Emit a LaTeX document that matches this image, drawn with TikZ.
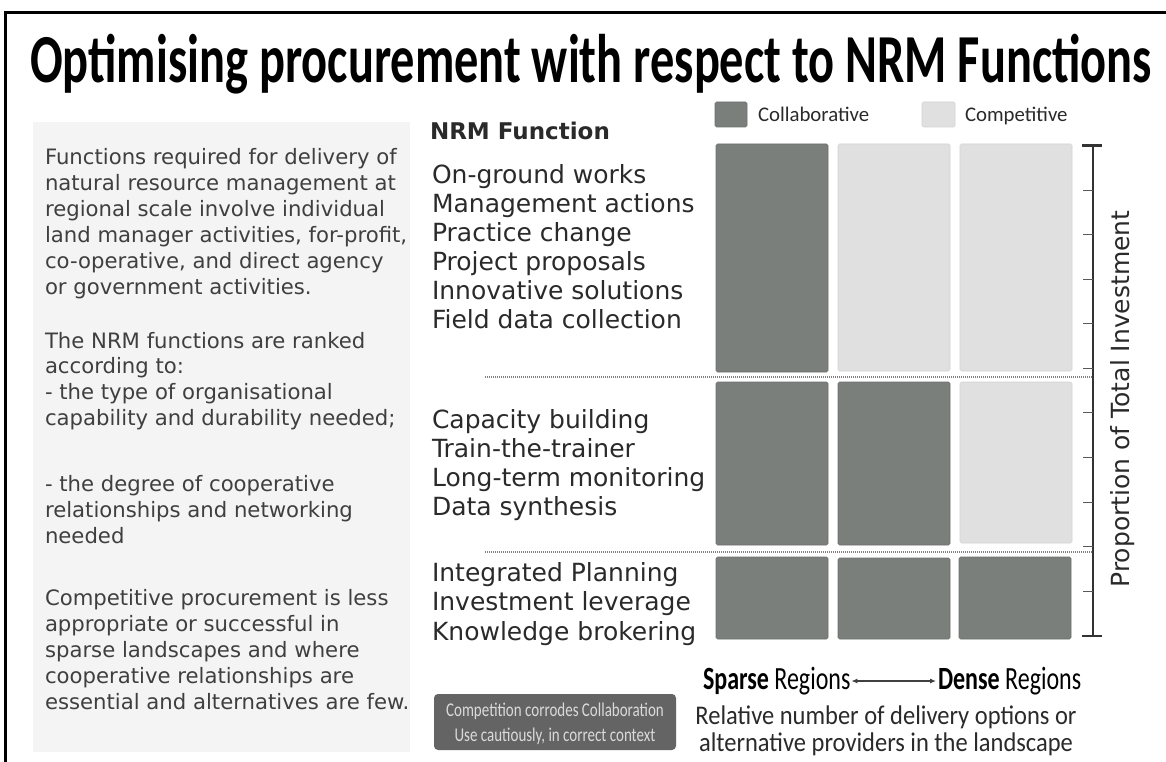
\documentclass[tikz,border=0pt]{standalone}
\usepackage{fontspec}
\setmainfont{DejaVu Sans}
\newfontfamily\carlito{Carlito}
\usetikzlibrary{arrows.meta}
\definecolor{darkbar}{HTML}{7B7F7B}
\definecolor{lightbar}{HTML}{E0E0E0}
\definecolor{panelgray}{HTML}{F4F4F4}
\definecolor{txt}{HTML}{2A2A2A}
\definecolor{boxgray}{HTML}{646464}
\definecolor{boxtxt}{HTML}{DADADA}
\begin{document}
\begin{tikzpicture}[x=1pt,y=-1pt,
  every node/.style={inner sep=0pt, outer sep=0pt},
  lefttxt/.style={anchor=base west, font=\fontsize{21.2}{24}\selectfont, text=txt!90!white},
  functxt/.style={anchor=base west, font=\fontsize{25}{30}\selectfont, text=txt},
  legtxt/.style={anchor=base west, font=\carlito\fontsize{20.8}{24}\selectfont, text=txt},
  collab/.style={fill=darkbar, draw=darkbar!88!black, line width=0.6pt, rounded corners=1.5pt},
  compet/.style={fill=lightbar, draw=lightbar!94!black, line width=0.6pt, rounded corners=1.5pt},
  divider/.style={draw=gray, line width=1.3pt, dash pattern=on 1pt off 1pt},
  axisline/.style={draw=black!80, line width=2pt},
  tickline/.style={draw=black!65, line width=1pt},
  ]
\useasboundingbox (0,0) rectangle (1166,762);
\fill[white] (0,0) rectangle (1166,762);
% frame
\draw[line width=3pt] (5,762) -- (5,13) -- (1166,13);
% title
\node[anchor=base west, font=\carlito\bfseries\fontsize{48.4}{56}\selectfont] (title) at (30,83)
  {\scalebox{1}[1.42]{Optimising procurement with respect to NRM Functions}};
% left panel
\fill[panelgray] (33,122) rectangle (410,752);
\foreach \t [count=\i from 0] in {Functions required for delivery of, natural resource management at, regional scale involve individual, {land manager activities, for-profit,}, {co-operative, and direct agency}, or government activities.}
  \node[lefttxt] (pa\i) at (45,{165+25.8*\i}) {\t};
\foreach \t [count=\i from 0] in {The NRM functions are ranked, according to:, - the type of organisational, capability and durability needed;}
  \node[lefttxt] (pb\i) at (45,{348+25.7*\i}) {\t};
\foreach \t [count=\i from 0] in {- the degree of cooperative, relationships and networking, needed}
  \node[lefttxt] (pc\i) at (45,{491+26*\i}) {\t};
\foreach \t [count=\i from 0] in {Competitive procurement is less, appropriate or successful in, sparse landscapes and where, cooperative relationships are, essential and alternatives are few.}
  \node[lefttxt] (pd\i) at (45,{605+26*\i}) {\t};
% NRM function list
\node[anchor=base west, font=\bfseries\fontsize{23}{28}\selectfont, text=txt] (hdr) at (430,140) {NRM Function};
\foreach \t [count=\i from 0] in {On-ground works, Management actions, Practice change, Project proposals, Innovative solutions, Field data collection}
  \node[functxt] (fa\i) at (432,{183+29*\i}) {\t};
\foreach \t [count=\i from 0] in {Capacity building, Train-the-trainer, Long-term monitoring, Data synthesis}
  \node[functxt] (fb\i) at (432,{428+29.3*\i}) {\t};
\foreach \t [count=\i from 0] in {Integrated Planning, Investment leverage, Knowledge brokering}
  \node[functxt] (fc\i) at (432,{581+29.5*\i}) {\t};
% legend
\draw[collab] (715,102) rectangle (747,127);
\node[legtxt] (legA) at (758,121.5) {Collaborative};
\draw[compet] (922,102) rectangle (955,127);
\node[legtxt] (legB) at (965,121.5) {Competitive};
% bars
\draw[collab] (716,144) rectangle (828,372);
\draw[compet] (838,144) rectangle (950,371);
\draw[compet] (960,144) rectangle (1072,371);
\draw[collab] (716,382) rectangle (828,545);
\draw[collab] (838,382) rectangle (950,545);
\draw[compet] (960,382) rectangle (1072,543);
\draw[collab] (716,557) rectangle (828,639);
\draw[collab] (838,558) rectangle (950,639);
\draw[collab] (959,557) rectangle (1071,639);
% dividers
\draw[divider] (485,377) -- (1093,377);
\draw[divider] (485,552) -- (1093,552);
% axis
\draw[axisline] (1093,145.6) -- (1093,635.8);
\draw[axisline, line width=2.6pt] (1082,145.6) -- (1102,145.6);
\draw[axisline, line width=2.6pt] (1082,635.8) -- (1102,635.8);
\foreach \k in {1,...,10}
  \draw[tickline] (1083,{145.6+44.56*\k}) -- (1093,{145.6+44.56*\k});
\node[anchor=base, rotate=90, font=\fontsize{25}{30}\selectfont, text=txt] (ylab) at (1129,399) {Proportion of Total Investment};
% bottom axis labels
\node[anchor=base west, font=\carlito\fontsize{24}{28}\selectfont, text=black] (sparse) at (703,689) {\scalebox{1}[1.35]{\bfseries Sparse\mdseries{} Regions}};
\node[anchor=base west, font=\carlito\fontsize{24}{28}\selectfont, text=black] (dense) at (938,689) {\scalebox{1}[1.35]{\bfseries Dense\mdseries{} Regions}};
\draw[{Latex[length=6pt,width=5pt]}-{Latex[length=6pt,width=5pt]}, line width=1.1pt, draw=black!75]
  ([xshift=1pt,yshift=8pt]sparse.base east) -- ([xshift=-2pt,yshift=8pt]dense.base west);
\node[anchor=base, font=\carlito\fontsize{24.5}{28}\selectfont, text=txt] (rel1) at (886,724) {\scalebox{1}[1.1]{Relative number of delivery options or}};
\node[anchor=base, font=\carlito\fontsize{24.5}{28}\selectfont, text=txt] (rel2) at (886,751) {\scalebox{1}[1.1]{alternative providers in the landscape}};
% caution box
\node[fill=boxgray, rounded corners=4pt, minimum width=242pt, minimum height=56pt, anchor=north west] (caution) at (434,694) {};
\node[anchor=base, font=\carlito\fontsize{15}{18}\selectfont, text=boxtxt] (c1) at (555,716) {\scalebox{1}[1.3]{Competition corrodes Collaboration}};
\node[anchor=base, font=\carlito\fontsize{15}{18}\selectfont, text=boxtxt] (c2) at (555,741) {\scalebox{1}[1.3]{Use cautiously, in correct context}};
\end{tikzpicture}
\end{document}
